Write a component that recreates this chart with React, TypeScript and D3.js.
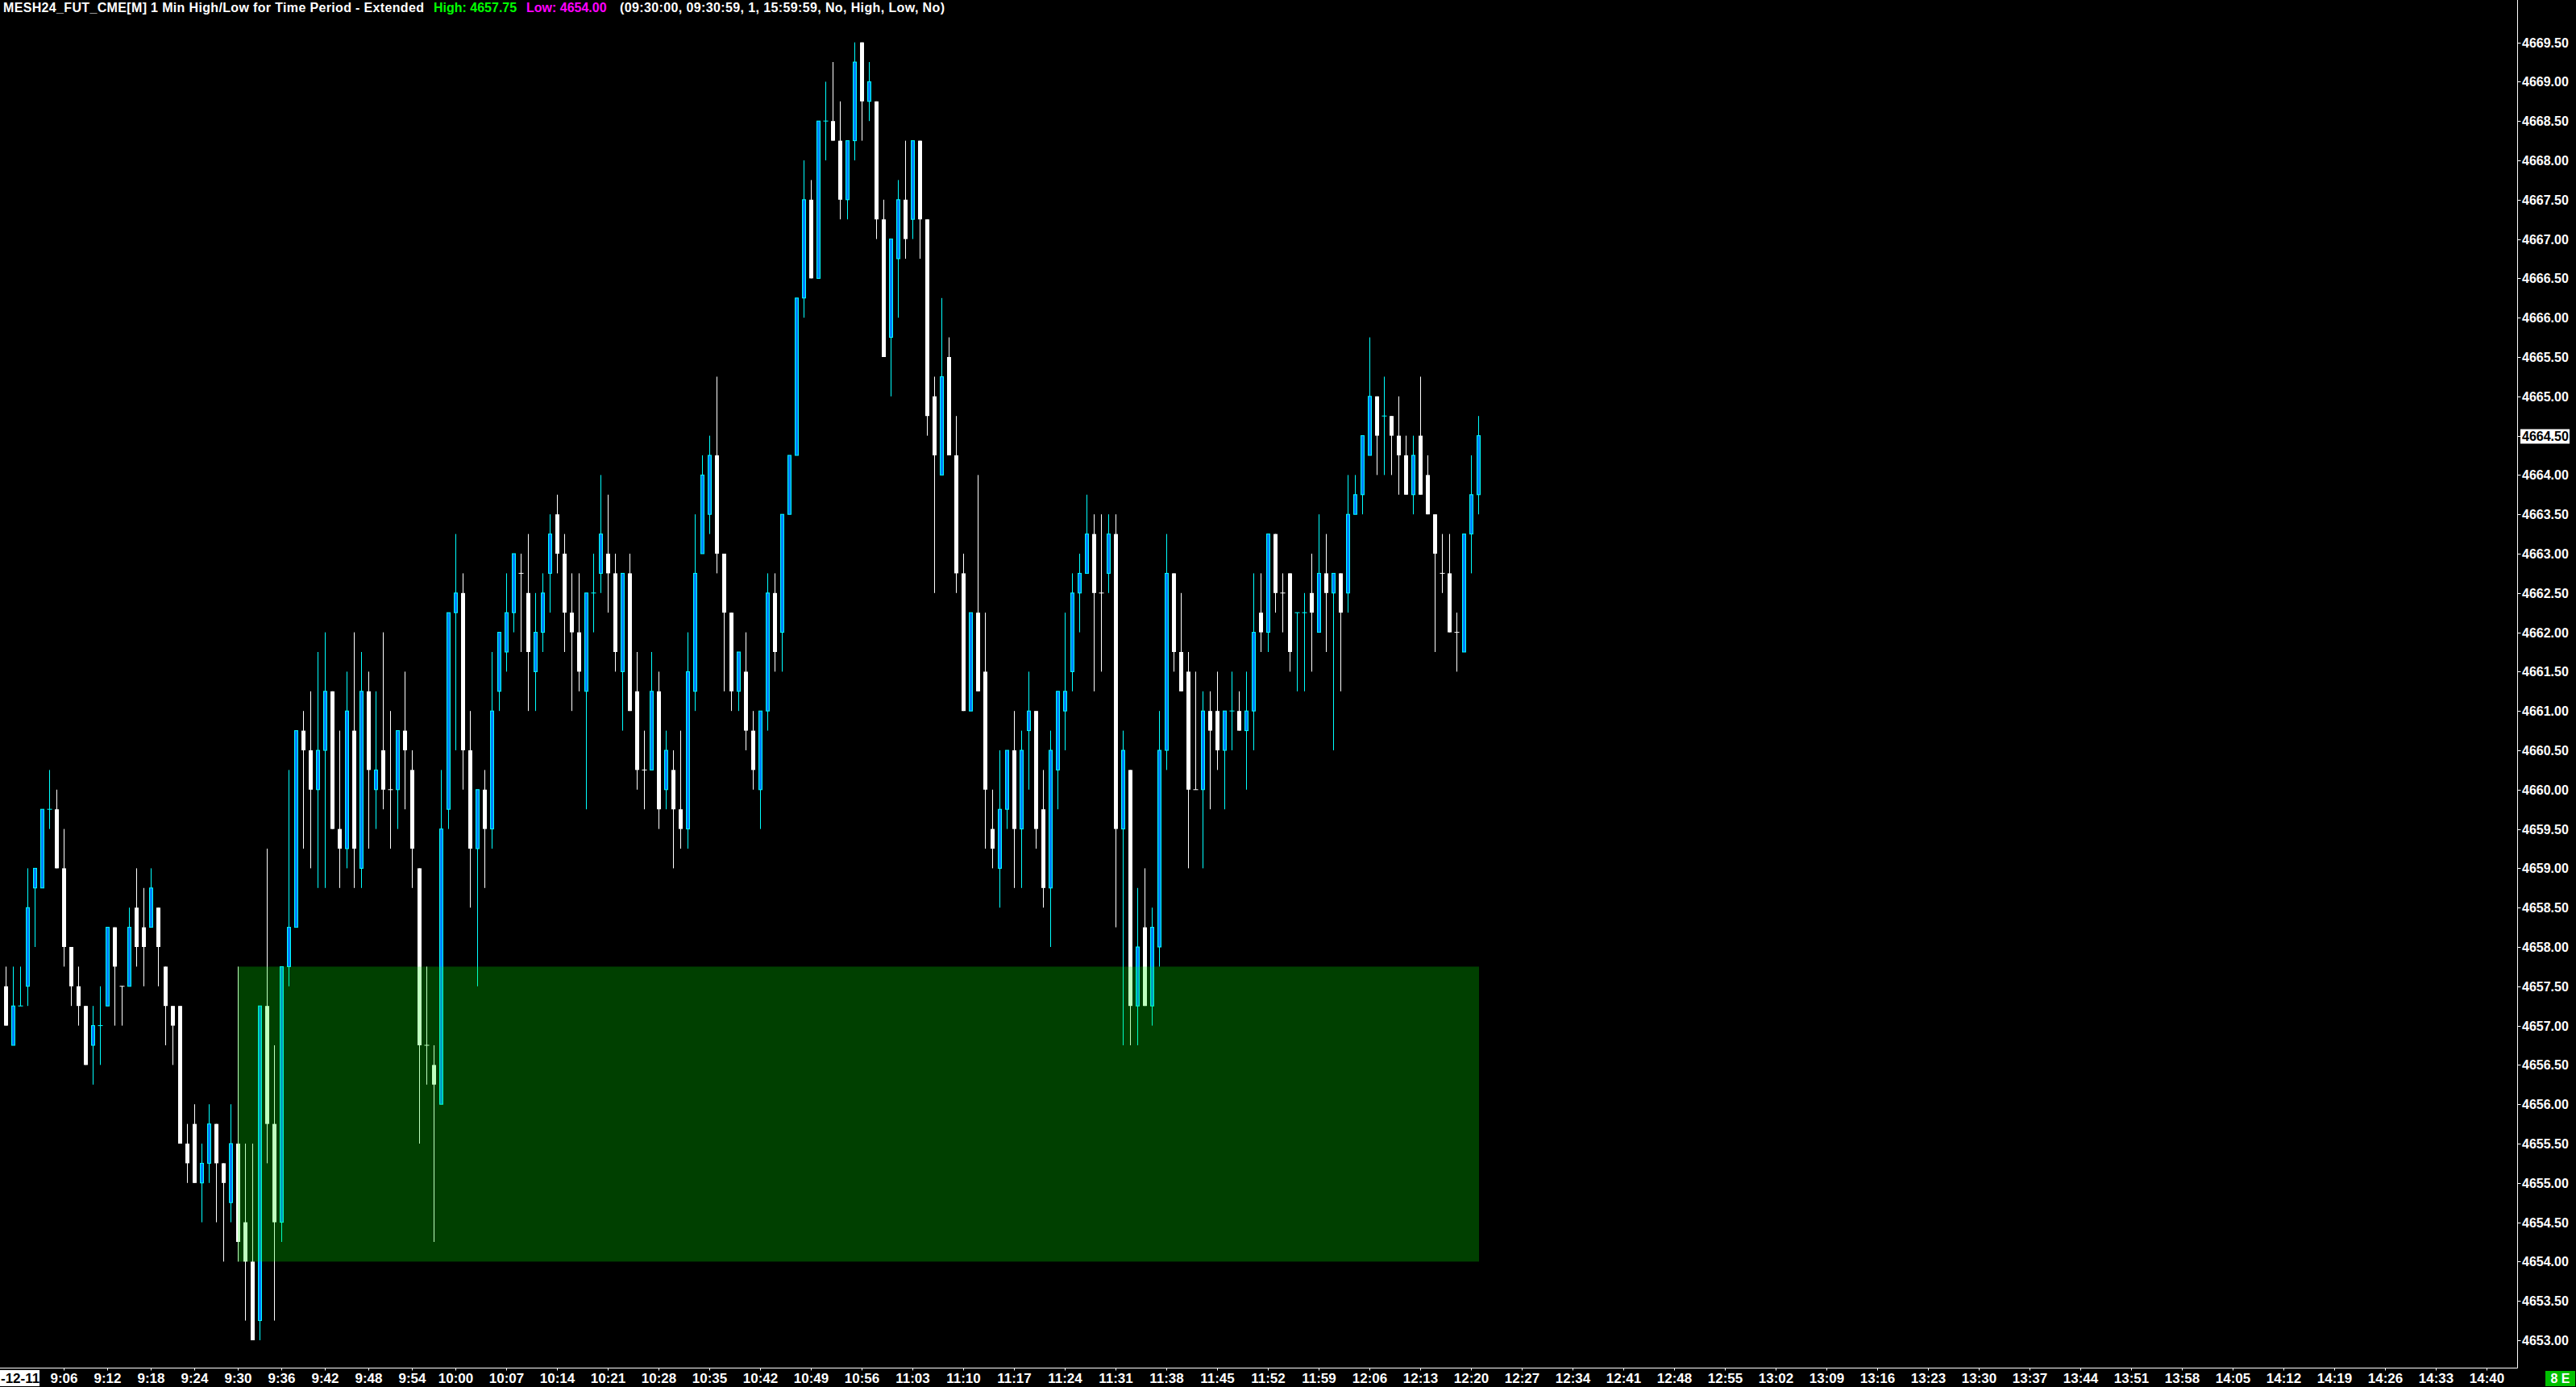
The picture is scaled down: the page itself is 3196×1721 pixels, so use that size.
import React, { useEffect } from 'react';
import * as d3 from 'd3';

const W = 3196;
const H = 1721;

// 1 min bars, [open, high, low, close]
const firstBarTime = '8:58';

const preOpenBars = [
  [4657.5, 4657.75, 4657.0, 4657.0], [4656.75, 4657.75, 4656.75, 4657.25], [4657.25, 4657.75, 4657.25, 4657.25],
  [4657.5, 4659.0, 4657.25, 4658.5], [4658.75, 4659.0, 4658.0, 4659.0], [4658.75, 4659.75, 4658.75, 4659.75],
  [4659.75, 4660.25, 4659.5, 4659.75], [4659.75, 4660.0, 4659.0, 4659.0], [4659.0, 4659.5, 4657.75, 4658.0],
  [4658.0, 4658.0, 4657.25, 4657.5], [4657.5, 4657.75, 4657.0, 4657.25], [4657.25, 4657.25, 4656.5, 4656.5],
  [4656.75, 4657.25, 4656.25, 4657.0], [4657.0, 4657.5, 4656.5, 4657.0], [4657.25, 4658.25, 4657.25, 4658.25],
  [4658.25, 4658.25, 4657.0, 4657.75], [4657.5, 4657.5, 4657.0, 4657.5], [4657.5, 4658.5, 4657.5, 4658.25],
  [4658.5, 4659.0, 4657.75, 4658.0], [4658.25, 4658.75, 4657.5, 4658.0], [4658.25, 4659.0, 4658.25, 4658.75],
  [4658.5, 4658.5, 4657.5, 4658.0], [4657.75, 4657.75, 4656.75, 4657.25], [4657.25, 4657.25, 4656.5, 4657.0],
  [4657.25, 4657.25, 4655.5, 4655.5], [4655.5, 4655.75, 4655.0, 4655.25], [4655.75, 4656.0, 4655.0, 4655.0],
  [4655.0, 4655.5, 4654.5, 4655.25], [4655.25, 4656.0, 4655.0, 4655.75], [4655.75, 4655.75, 4654.5, 4655.25],
  [4655.25, 4655.25, 4654.0, 4655.0], [4654.75, 4656.0, 4654.5, 4655.5],
];

const bars0930 = [
  [4655.5, 4657.75, 4654.0, 4654.25], [4654.5, 4655.5, 4653.25, 4654.0], [4654.0, 4655.5, 4653.0, 4653.0],
  [4653.25, 4657.25, 4653.0, 4657.25], [4657.25, 4659.25, 4655.25, 4655.75], [4655.75, 4656.75, 4653.25, 4654.5],
  [4654.5, 4657.75, 4654.25, 4657.75], [4657.75, 4660.25, 4657.5, 4658.25], [4658.25, 4660.75, 4658.25, 4660.75],
  [4660.75, 4661.0, 4659.25, 4660.5], [4660.5, 4661.25, 4659.0, 4660.0], [4660.0, 4661.75, 4658.75, 4660.5],
  [4660.5, 4662.0, 4658.75, 4661.25], [4661.25, 4661.25, 4659.5, 4659.5], [4659.5, 4660.75, 4658.75, 4659.25],
  [4659.25, 4661.5, 4659.0, 4661.0], [4660.75, 4662.0, 4658.75, 4659.25], [4659.0, 4661.75, 4658.75, 4661.25],
  [4661.25, 4661.5, 4659.25, 4660.25], [4660.0, 4661.25, 4659.5, 4660.25], [4660.5, 4662.0, 4659.75, 4660.0],
  [4660.0, 4661.0, 4659.25, 4660.0], [4660.0, 4660.75, 4659.5, 4660.75], [4660.75, 4661.5, 4659.75, 4660.5],
  [4660.25, 4660.5, 4658.75, 4659.25], [4659.0, 4659.0, 4655.5, 4656.75], [4656.75, 4657.75, 4656.25, 4656.75],
  [4656.5, 4656.75, 4654.25, 4656.25], [4656.0, 4660.25, 4656.0, 4659.5], [4659.75, 4662.25, 4659.5, 4662.25],
];

const bars1000 = [
  [4662.25, 4663.25, 4660.5, 4662.5], [4662.5, 4662.75, 4660.0, 4660.5], [4660.5, 4661.0, 4658.5, 4659.25],
  [4659.25, 4660.0, 4657.5, 4660.0], [4660.0, 4660.25, 4658.75, 4659.5], [4659.5, 4661.75, 4659.25, 4661.0],
  [4661.25, 4662.0, 4661.0, 4662.0], [4661.75, 4662.75, 4661.5, 4662.25], [4662.25, 4663.0, 4662.0, 4663.0],
  [4662.75, 4663.0, 4661.75, 4662.75], [4662.5, 4663.25, 4661.0, 4661.75], [4661.5, 4662.5, 4661.0, 4662.0],
  [4662.0, 4662.75, 4661.75, 4662.5], [4662.75, 4663.5, 4662.25, 4663.25], [4663.5, 4663.75, 4662.75, 4663.0],
  [4663.0, 4663.25, 4661.75, 4662.25], [4662.25, 4662.75, 4661.0, 4662.0], [4662.0, 4662.75, 4661.25, 4661.5],
  [4661.25, 4662.5, 4659.75, 4662.5], [4662.5, 4663.0, 4662.0, 4662.5], [4662.75, 4664.0, 4662.5, 4663.25],
  [4663.0, 4663.75, 4662.25, 4662.75], [4662.75, 4663.0, 4661.5, 4661.75], [4661.5, 4662.75, 4660.75, 4662.75],
  [4662.75, 4663.0, 4661.0, 4661.0], [4661.25, 4661.75, 4660.0, 4660.25], [4660.25, 4660.75, 4659.75, 4660.25],
  [4660.25, 4661.75, 4660.25, 4661.25], [4661.25, 4661.5, 4659.5, 4659.75], [4660.0, 4660.75, 4659.75, 4660.5],
];

const bars1030 = [
  [4660.25, 4660.5, 4659.0, 4659.75], [4659.75, 4660.75, 4659.25, 4659.5], [4659.5, 4662.0, 4659.25, 4661.5],
  [4661.25, 4663.5, 4661.0, 4662.75], [4663.0, 4664.25, 4663.0, 4664.0], [4663.5, 4664.5, 4663.25, 4664.25],
  [4664.25, 4665.25, 4662.75, 4663.0], [4663.0, 4663.0, 4661.25, 4662.25], [4662.25, 4662.25, 4661.0, 4661.25],
  [4661.25, 4661.75, 4661.0, 4661.75], [4661.5, 4662.0, 4660.5, 4660.75], [4660.75, 4661.0, 4660.0, 4660.25],
  [4660.0, 4661.0, 4659.5, 4661.0], [4661.0, 4662.75, 4660.75, 4662.5], [4662.5, 4662.75, 4661.5, 4661.75],
  [4662.0, 4663.5, 4661.5, 4663.5], [4663.5, 4664.25, 4663.5, 4664.25], [4664.25, 4666.25, 4664.25, 4666.25],
  [4666.25, 4668.0, 4666.0, 4667.5], [4667.5, 4667.75, 4666.5, 4666.5], [4666.5, 4668.5, 4666.5, 4668.5],
  [4668.5, 4669.0, 4668.0, 4668.5], [4668.5, 4669.25, 4668.25, 4668.25], [4668.25, 4668.75, 4667.25, 4667.5],
  [4667.5, 4668.25, 4667.25, 4668.25], [4668.25, 4669.5, 4668.0, 4669.25], [4669.5, 4669.5, 4668.25, 4668.75],
  [4668.75, 4669.25, 4668.5, 4669.0], [4668.75, 4668.75, 4667.0, 4667.25], [4667.25, 4667.5, 4665.5, 4665.5],
];

const bars1100 = [
  [4665.75, 4667.0, 4665.0, 4667.0], [4666.75, 4667.75, 4666.0, 4667.5], [4667.5, 4668.25, 4666.75, 4667.0],
  [4667.25, 4668.25, 4667.0, 4668.25], [4668.25, 4668.25, 4666.75, 4667.25], [4667.25, 4667.25, 4664.5, 4664.75],
  [4665.0, 4665.25, 4662.5, 4664.25], [4664.0, 4666.25, 4664.0, 4665.25], [4665.5, 4665.75, 4664.25, 4664.25],
  [4664.25, 4664.75, 4662.5, 4662.75], [4662.75, 4663.0, 4661.0, 4661.0], [4661.0, 4662.25, 4661.0, 4662.25],
  [4662.25, 4664.0, 4661.25, 4661.25], [4661.5, 4662.25, 4659.25, 4660.0], [4659.5, 4660.0, 4659.0, 4659.25],
  [4659.0, 4660.5, 4658.5, 4659.75], [4659.75, 4660.5, 4659.5, 4660.5], [4660.5, 4661.0, 4658.75, 4659.5],
  [4659.5, 4660.75, 4658.75, 4660.5], [4660.75, 4661.5, 4660.0, 4661.0], [4661.0, 4661.0, 4659.25, 4659.5],
  [4659.75, 4660.25, 4658.5, 4658.75], [4658.75, 4660.75, 4658.0, 4660.5], [4660.25, 4661.25, 4659.75, 4661.25],
  [4661.0, 4662.25, 4660.5, 4661.25], [4661.5, 4662.75, 4661.25, 4662.5], [4662.5, 4663.0, 4662.0, 4662.75],
  [4662.75, 4663.75, 4662.75, 4663.25], [4663.25, 4663.5, 4661.25, 4662.5], [4662.5, 4663.5, 4661.5, 4662.5],
];

const bars1130 = [
  [4662.75, 4663.5, 4662.5, 4663.25], [4663.25, 4663.5, 4658.25, 4659.5], [4659.5, 4660.75, 4656.75, 4660.5],
  [4660.25, 4660.25, 4656.75, 4657.25], [4657.25, 4658.75, 4656.75, 4658.0], [4658.25, 4659.0, 4657.25, 4657.25],
  [4657.25, 4658.5, 4657.0, 4658.25], [4658.0, 4661.0, 4657.75, 4660.5], [4660.5, 4663.25, 4660.25, 4662.75],
  [4662.75, 4662.75, 4661.5, 4661.75], [4661.75, 4662.5, 4661.25, 4661.25], [4661.5, 4661.75, 4659.0, 4660.0],
  [4660.0, 4661.5, 4660.0, 4660.0], [4660.0, 4661.25, 4659.0, 4661.0], [4661.0, 4661.25, 4659.75, 4660.75],
  [4661.0, 4661.5, 4660.25, 4660.5], [4660.5, 4661.0, 4659.75, 4661.0], [4661.0, 4661.5, 4660.5, 4661.0],
  [4661.0, 4661.25, 4660.75, 4660.75], [4660.75, 4661.5, 4660.0, 4661.0], [4661.0, 4662.75, 4660.5, 4662.0],
  [4662.25, 4662.75, 4661.75, 4662.0], [4662.0, 4663.25, 4661.75, 4663.25], [4663.25, 4663.25, 4662.25, 4662.5],
  [4662.5, 4662.75, 4662.0, 4662.5], [4662.75, 4662.75, 4661.5, 4661.75], [4662.25, 4662.25, 4661.25, 4662.25],
  [4662.25, 4662.5, 4661.25, 4662.25], [4662.5, 4663.0, 4661.5, 4662.25], [4662.0, 4663.5, 4662.0, 4662.75],
];

const bars1200 = [
  [4662.75, 4663.25, 4661.75, 4662.5], [4662.5, 4662.75, 4660.5, 4662.75], [4662.75, 4662.75, 4661.25, 4662.25],
  [4662.5, 4664.0, 4662.25, 4663.5], [4663.5, 4664.0, 4663.5, 4663.75], [4663.75, 4664.5, 4663.5, 4664.5],
  [4664.25, 4665.75, 4664.25, 4665.0], [4665.0, 4665.0, 4664.0, 4664.5], [4664.75, 4665.25, 4664.0, 4664.75],
  [4664.75, 4664.75, 4664.0, 4664.5], [4664.5, 4665.0, 4663.75, 4664.25], [4664.25, 4664.5, 4663.75, 4663.75],
  [4663.75, 4664.5, 4663.5, 4664.25], [4664.5, 4665.25, 4663.75, 4663.75], [4664.0, 4664.25, 4663.5, 4663.5],
  [4663.5, 4663.5, 4661.75, 4663.0], [4662.75, 4663.25, 4662.5, 4662.75], [4662.75, 4663.25, 4662.0, 4662.0],
  [4662.0, 4662.25, 4661.5, 4662.0], [4661.75, 4663.25, 4661.75, 4663.25], [4663.25, 4664.25, 4662.75, 4663.75],
  [4663.75, 4664.75, 4663.5, 4664.5],
];

// dojis drawn in the up colour
const cyanDojiTimes = ['9:00', '9:04', '9:11', '10:19', '10:51', '11:47', '11:56', '11:57', '12:08'];

// High/Low for Time Period study
const periodStart = '9:30';
const periodHigh = 4657.75;
const periodLow = 4654.0;

const priceLabels = [
  '4653.00', '4653.50', '4654.00', '4654.50', '4655.00', '4655.50', '4656.00', '4656.50', '4657.00',
  '4657.50', '4658.00', '4658.50', '4659.00', '4659.50', '4660.00', '4660.50', '4661.00', '4661.50',
  '4662.00', '4662.50', '4663.00', '4663.50', '4664.00', '4664.50', '4665.00', '4665.50', '4666.00',
  '4666.50', '4667.00', '4667.50', '4668.00', '4668.50', '4669.00', '4669.50',
];

const timeLabels = [
  '9:06', '9:12', '9:18', '9:24', '9:30', '9:36', '9:42', '9:48', '9:54', '10:00', '10:07', '10:14',
  '10:21', '10:28', '10:35', '10:42', '10:49', '10:56', '11:03', '11:10', '11:17', '11:24', '11:31',
  '11:38', '11:45', '11:52', '11:59', '12:06', '12:13', '12:20', '12:27', '12:34', '12:41', '12:48',
  '12:55', '13:02', '13:09', '13:16', '13:23', '13:30', '13:37', '13:44', '13:51', '13:58', '14:05',
  '14:12', '14:19', '14:26', '14:33', '14:40',
];

const dateLabel = '-12-11';
const lastPriceLabel = '4664.50';

const toMin = (t: string) => {
  const [h, m] = t.split(':').map(Number);
  return h * 60 + m;
};

const UP_FILL = '#0080ff';
const UP_LINE = '#00ffff';
const DOWN = '#ffffff';
const FONT = '"Liberation Sans", Arial, sans-serif';

export default function App() {
  useEffect(() => {
    document.body.style.margin = '0';
    document.body.style.background = '#000';
  }, []);

  const start = toMin(firstBarTime);
  const bars = [...preOpenBars, ...bars0930, ...bars1000, ...bars1030, ...bars1100, ...bars1130, ...bars1200]
    .map((b, i) => ({ m: start + i, o: b[0], h: b[1], l: b[2], c: b[3] }));
  const cyanDoji = new Set(cyanDojiTimes.map(toMin));

  const x = d3.scaleLinear().domain([toMin('9:30'), toMin('14:40')]).range([295.5, 3085.5]);
  const y = d3.scaleLinear().domain([4653, 4669.5]).range([1663, 52.6]);

  const axisX = 3123.5;
  const axisY = 1697.5;
  const lastBar = bars[bars.length - 1];
  const rectX0 = x(toMin(periodStart)) - 0.5;
  const rectX1 = x(lastBar.m) + 0.5;

  return (
    <svg width={W} height={H} style={{ display: 'block', position: 'fixed', left: 0, top: 0 }}>
      <rect width={W} height={H} fill="#000" />

      {bars.map((b) => {
        const cx = x(b.m);
        const up = b.c > b.o;
        const doji = b.c === b.o;
        const col = up || (doji && cyanDoji.has(b.m)) ? UP_LINE : DOWN;
        return (
          <g key={b.m}>
            <line x1={cx} x2={cx} y1={y(b.h)} y2={y(b.l)} stroke={col} strokeWidth={1} />
            {doji ? (
              <line x1={cx - 3} x2={cx + 3} y1={y(b.o)} y2={y(b.o)} stroke={col} strokeWidth={1} />
            ) : up ? (
              <rect x={cx - 2} width={4} y={y(b.c)} height={y(b.o) - y(b.c)} fill={UP_FILL} stroke={UP_LINE} strokeWidth={1} />
            ) : (
              <rect x={cx - 2.5} width={5} y={y(b.o)} height={y(b.c) - y(b.o)} fill={DOWN} />
            )}
          </g>
        );
      })}

      <rect x={rectX0} width={rectX1 - rectX0} y={y(periodHigh)} height={y(periodLow) - y(periodHigh)} fill="rgba(0,255,0,0.25)" />

      {/* header */}
      <g fontFamily={FONT} fontWeight="bold" fontSize={16}>
        <text x={4} y={15} fill="#fff" textLength={522}>MESH24_FUT_CME[M] 1 Min  High/Low for Time Period - Extended</text>
        <text x={538} y={15} fill="#00ff00">{`High: ${periodHigh.toFixed(2)}`}</text>
        <text x={653} y={15} fill="#ff00ff">{`Low: ${periodLow.toFixed(2)}`}</text>
        <text x={769} y={15} fill="#fff" textLength={403}>(09:30:00, 09:30:59, 1, 15:59:59, No, High, Low, No)</text>
      </g>

      {/* axes */}
      <line x1={axisX} x2={axisX} y1={0} y2={axisY} stroke="#fff" />
      <line x1={0} x2={axisX} y1={axisY} y2={axisY} stroke="#fff" />

      <g fontFamily={FONT} fontWeight="bold" fontSize={16}>
        {priceLabels.map((p) => {
          const py = Math.round(y(+p)) + 0.5;
          const isLast = p === lastPriceLabel;
          return (
            <g key={p}>
              <line x1={axisX} x2={axisX + 4} y1={py} y2={py} stroke="#fff" />
              {isLast && <rect x={3127} y={py - 9} width={61} height={18} fill="#fff" />}
              <text x={3129} y={py} dy="0.36em" fill={isLast ? '#000' : '#fff'}>{p}</text>
            </g>
          );
        })}
      </g>

      <g fontFamily={FONT} fontWeight="bold" fontSize={17}>
        <rect x={0} y={1700} width={49} height={20} fill="#fff" />
        <text x={1} y={1716} fill="#000">{dateLabel}</text>
        {timeLabels.map((t) => {
          const tx = x(toMin(t));
          return (
            <g key={t}>
              <line x1={tx} x2={tx} y1={axisY} y2={axisY + 3} stroke="#fff" />
              <text x={tx} y={1716} textAnchor="middle" fill="#fff">{t}</text>
            </g>
          );
        })}
        <rect x={3158} y={1701} width={37} height={19} fill="#00c000" />
        <text x={3176.5} y={1716} textAnchor="middle" fill="#fff" fontSize={16}>8 E</text>
      </g>
    </svg>
  );
}
